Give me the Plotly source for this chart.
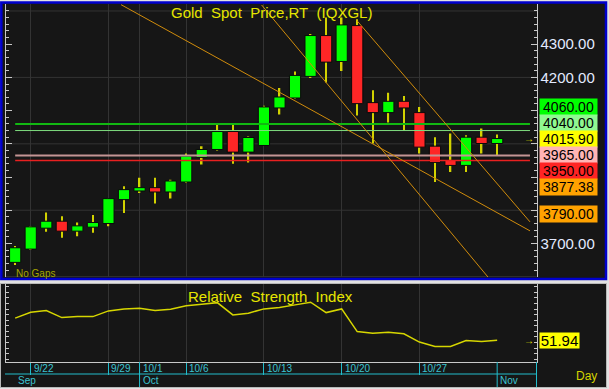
import plotly.graph_objects as go

W, H = 609, 389

# ---------------- data ----------------
dates = ["9/19", "9/22", "9/23", "9/24", "9/25", "9/26", "9/29", "9/30", "10/1", "10/2",
         "10/3", "10/6", "10/7", "10/8", "10/9", "10/10", "10/13", "10/14", "10/15", "10/16",
         "10/17", "10/20", "10/21", "10/22", "10/23", "10/24", "10/27", "10/28", "10/29", "10/30",
         "10/31", "11/3"]
opens = [3643, 3683, 3746, 3767, 3737, 3749, 3760, 3832, 3858, 3868,
         3855, 3885, 3959, 3983, 4037, 3975, 3995, 4108, 4138, 4203,
         4326, 4248, 4356, 4124, 4094, 4128, 4094, 3993, 3950, 3935,
         4020, 4001]
highs = [3692, 3752, 3793, 3782, 3763, 3786, 3836, 3872, 3898, 3898,
         3892, 3971, 3993, 4058, 4058, 4022, 4115, 4168, 4218, 4331,
         4380, 4380, 4375, 4161, 4154, 4144, 4111, 4020, 4031, 4026,
         4046, 4028]
lows = [3635, 3680, 3735, 3717, 3722, 3732, 3752, 3792, 3852, 3820,
        3835, 3882, 3938, 3980, 3940, 3944, 3995, 4088, 4136, 4198,
        4185, 4219, 4085, 4001, 4064, 4041, 3971, 3885, 3915, 3915,
        3971, 3965]
closes = [3687, 3750, 3767, 3737, 3753, 3763, 3835, 3862, 3868, 3855,
          3888, 3963, 3983, 4037, 3975, 4019, 4111, 4141, 4206, 4326,
          4246, 4358, 4121, 4094, 4128, 4108, 3990, 3944, 3935, 4020,
          4001, 4015.90]
rsi = [71.8, 77.1, 78.6, 72.3, 73.2, 73.2, 78.3, 80.1, 80.7, 78.6,
       79.8, 83.0, 84.3, 85.7, 74.7, 76.3, 80.1, 81.3, 83.7, 86.1,
       76.8, 80.1, 59.8, 58.4, 59.3, 57.8, 50.4, 46.4, 46.4, 51.8,
       50.9, 51.94]

date_ticks = ["9/22", "9/29", "10/1", "10/6", "10/13", "10/20", "10/27"]
month_labels = ["Sep", "Oct", "Nov"]
month_first = ["9/19", "10/1", "11/3"]

price_tick_vals = [4300, 4200, 4100, 4000, 3900, 3800, 3700]
price_tick_text = ["4300.00", "4200.00", "", "", "", "", "3700.00"]
grid_levels = [4400, 4200, 4000, 3800, 3600]

# horizontal level lines
level_vals = [4060, 4040, 3965, 3950]
level_colors = ["#12b812", "#7fdc7f", "#c49494", "#e82020"]
level_widths = [2, 1, 2, 1.5]

# right-hand value labels
label_vals = [4060.00, 4040.00, 4015.90, 3965.00, 3950.00, 3877.38, 3790.00]
label_bg = ["#00ff00", "#90f890", "#ffff00", "#ffb4b4", "#ff2424", "#ffa200", "#ffa200"]

# trend lines (start / end in bar index, price)
trend_x0 = [6.81, 15.85, 21.98]
trend_y0 = [4419, 4418, 4371]
trend_x1 = [33.11, 31.1, 33.11]
trend_y1 = [3738, 3560, 3765]

# ---------------- helpers ----------------
def px(x):
    return x / W

def py(y):
    return 1 - y / H

BG = "#161616"
GRID = "#333333"
AXC = "#c8c8c8"
CYAN = "#22bccb"
FONT = "Liberation Sans, Arial, sans-serif"
NARROW = "Liberation Sans Narrow, Arial Narrow, Liberation Sans, sans-serif"

xs = list(range(len(dates)))
pos = {d: i for i, d in enumerate(dates)}
X_LO, X_HI = -0.59, 33.53
Y_LO, Y_HI = 3599, 4421
R_LO, R_HI = 33, 102.4
LINE_END = 33.11

MAIN_TOP, MAIN_BOT = 4, 277
RSI_TOP, RSI_BOT = 284, 361.5

fig = go.Figure()

# wicks
fig.add_trace(go.Bar(x=xs, y=[h - l for h, l in zip(highs, lows)], base=lows, width=0.1,
                     marker=dict(color="#d2d200", line=dict(width=0)), xaxis="x", yaxis="y"))
# bodies
body_base = [min(o, c) for o, c in zip(opens, closes)]
body_h = [max(abs(c - o), 2) for o, c in zip(opens, closes)]
body_col = ["#00ff00" if c >= o else "#ff2626" for o, c in zip(opens, closes)]
fig.add_trace(go.Bar(x=xs, y=body_h, base=body_base, width=0.72,
                     marker=dict(color=body_col, line=dict(color="#0a0a0a", width=1)),
                     xaxis="x", yaxis="y"))

# level lines
for v, c, w in zip(level_vals, level_colors, level_widths):
    fig.add_trace(go.Scatter(x=[xs[0], LINE_END], y=[v, v], mode="lines",
                             line=dict(color=c, width=w), xaxis="x", yaxis="y"))

# trend lines
for a, b, c, d in zip(trend_x0, trend_y0, trend_x1, trend_y1):
    fig.add_trace(go.Scatter(x=[a, c], y=[b, d], mode="lines",
                             line=dict(color="#d08c0c", width=1), xaxis="x", yaxis="y"))

# RSI
fig.add_trace(go.Scatter(x=xs, y=rsi, mode="lines", line=dict(color="#d6d600", width=1.5),
                         xaxis="x2", yaxis="y2"))

tick_idx = [pos[d] for d in date_ticks]

shapes = [
    dict(type="rect", xref="paper", yref="paper", x0=px(1.3), x1=px(606), y0=py(279), y1=py(2.5),
         fillcolor=BG, line=dict(color="#0000cc", width=2.5), layer="below"),
    dict(type="rect", xref="paper", yref="paper", x0=px(0.5), x1=px(606.5), y0=py(387.5), y1=py(283.5),
         fillcolor=BG, line=dict(color="#b8b8b8", width=1), layer="below"),
    dict(type="line", xref="paper", yref="paper", x0=px(5), x1=px(537), y0=py(374), y1=py(374),
         line=dict(color=CYAN, width=1)),
    dict(type="line", xref="paper", yref="paper", x0=px(536.5), x1=px(536.5), y0=py(362), y1=py(387),
         line=dict(color=CYAN, width=1)),
]
for g in grid_levels:
    shapes.append(dict(type="line", xref="x domain", yref="y", x0=0, x1=1, y0=g, y1=g,
                       line=dict(color=GRID, width=1), layer="below"))
for m in month_first[1:]:
    shapes.append(dict(type="line", xref="x2", yref="paper", x0=pos[m], x1=pos[m], y0=py(362), y1=py(387),
                       line=dict(color=CYAN, width=1)))

ann = []
ann.append(dict(text="Gold\u00a0 Spot\u00a0 Price,RT\u00a0 (IQXGL)", xref="paper", yref="paper",
                x=px(271), y=py(13), xanchor="center", yanchor="middle", showarrow=False,
                font=dict(family=FONT, size=15, color="#e6e600")))
ann.append(dict(text="No Gaps", xref="paper", yref="paper", x=px(14), y=py(273.5),
                xanchor="left", yanchor="middle", showarrow=False,
                font=dict(family=FONT, size=10, color="#a6a600")))
ann.append(dict(text="Relative\u00a0 Strength\u00a0 Index", xref="paper", yref="paper",
                x=px(270), y=py(296), xanchor="center", yanchor="middle", showarrow=False,
                font=dict(family=FONT, size=15, color="#e6e600")))

# stacked value labels on right axis
ppu = (MAIN_BOT - MAIN_TOP) / (Y_HI - Y_LO)
nat = {v: (Y_HI - v) * ppu for v in label_vals}
anchor = closes[-1]
target = dict(nat)
gap = 16
prev = nat[anchor]
for v in sorted([v for v in label_vals if v > anchor]):
    t = min(nat[v], prev - gap)
    target[v] = t
    prev = t
prev = nat[anchor]
for v in sorted([v for v in label_vals if v < anchor], reverse=True):
    t = max(nat[v], prev + gap)
    target[v] = t
    prev = t
for v, bg in zip(label_vals, label_bg):
    ann.append(dict(text=f"{v:.2f}", xref="paper", yref="y", x=px(539), y=v,
                    yshift=nat[v] - target[v], xanchor="left", yanchor="middle", showarrow=False,
                    bgcolor=bg, borderpad=0, width=57, height=16, align="center",
                    font=dict(family=FONT, size=14, color="#000000")))
ann.append(dict(text="\u2192", xref="paper", yref="y", x=px(529), y=closes[-1], xanchor="center",
                yanchor="middle", showarrow=False, font=dict(family=FONT, size=10, color="#e6e600")))

# RSI label
ann.append(dict(text=f"{rsi[-1]:.2f}", xref="paper", yref="y2", x=px(539), y=rsi[-1],
                xanchor="left", yanchor="middle", showarrow=False, bgcolor="#ffff00", borderpad=0,
                width=39, height=15, align="center",
                font=dict(family=FONT, size=15, color="#000000")))
ann.append(dict(text="\u2192", xref="paper", yref="y2", x=px(529), y=rsi[-1], xanchor="center",
                yanchor="middle", showarrow=False, font=dict(family=FONT, size=10, color="#e6e600")))

# date labels
for d in date_ticks:
    ann.append(dict(text=d, xref="x2", yref="paper", x=pos[d], y=py(368.5), xanchor="left",
                    yanchor="middle", xshift=1, showarrow=False,
                    font=dict(family=NARROW, size=10, color="#3cc4d2")))
for m, f in zip(month_labels, month_first):
    ann.append(dict(text=m, xref="x2", yref="paper", x=pos[f], y=py(380.5), xanchor="left",
                    yanchor="middle", xshift=1, showarrow=False,
                    font=dict(family=NARROW, size=10, color="#3cc4d2")))
ann.append(dict(text="Day", xref="paper", yref="paper", x=px(586), y=py(376), xanchor="center",
                yanchor="middle", showarrow=False, font=dict(family=FONT, size=12, color="#d4d400")))

fig.update_layout(
    width=W, height=H, margin=dict(l=0, r=0, t=0, b=0),
    paper_bgcolor="#e2e2e2", plot_bgcolor=BG,
    showlegend=False, hovermode=False, barmode="overlay",
    shapes=shapes, annotations=ann,
    xaxis=dict(domain=[px(6), px(536.5)], range=[X_LO, X_HI], anchor="y",
               tickmode="array", tickvals=tick_idx, showticklabels=False, ticks="",
               showgrid=True, gridcolor=GRID, gridwidth=1, zeroline=False, showline=False),
    yaxis=dict(domain=[py(MAIN_BOT), py(MAIN_TOP)], range=[Y_LO, Y_HI], anchor="x", side="right",
               tickmode="array", tickvals=price_tick_vals, ticktext=price_tick_text,
               ticks="inside", ticklen=6, tickcolor=AXC, mirror="ticks", showline=True,
               linecolor=AXC, linewidth=1, showgrid=False, zeroline=False,
               tickfont=dict(family=FONT, size=15, color="#e2eaff"),
               minor=dict(tickmode="linear", tick0=0, dtick=20, ticks="inside", ticklen=3,
                          tickcolor=AXC, showgrid=False)),
    xaxis2=dict(domain=[px(6), px(536.5)], range=[X_LO, X_HI], anchor="y2", matches="x",
                tickmode="array", tickvals=tick_idx, showticklabels=False, ticks="outside",
                ticklen=12, tickcolor=CYAN, tickwidth=1, showgrid=True, gridcolor=GRID,
                zeroline=False, showline=True, linecolor=AXC, linewidth=1),
    yaxis2=dict(domain=[py(RSI_BOT), py(RSI_TOP)], range=[R_LO, R_HI], anchor="x2",
                tickmode="linear", tick0=0, dtick=5, ticks="inside", ticklen=3, tickcolor=AXC,
                mirror="ticks", showline=True, linecolor=AXC, linewidth=1,
                showticklabels=False, showgrid=False, zeroline=False),
)

fig.write_html("out.html")
